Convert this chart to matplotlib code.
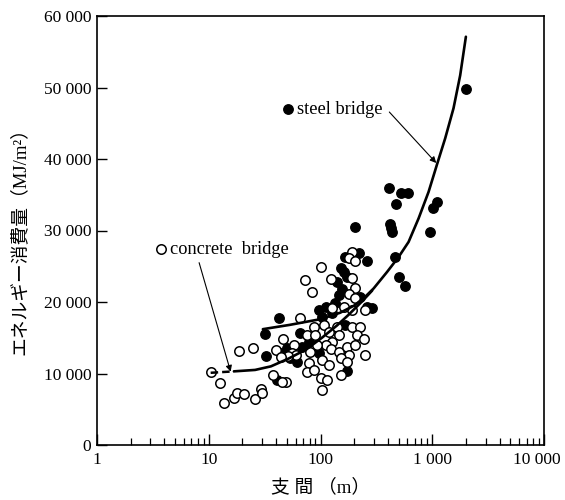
import matplotlib
matplotlib.use("Agg")
import matplotlib.pyplot as plt
import matplotlib.transforms as mtrans
from matplotlib.ticker import FixedLocator, LogLocator, NullFormatter

# ---------------- data ----------------
concrete_x = [192, 179, 205, 102, 72, 84, 123, 192, 205, 179, 205, 127, 192, 161, 65, 87, 107,
              76, 90, 119, 141, 192, 228, 213, 244, 146, 127, 111, 93, 58, 56, 123, 146, 173,
              205, 179, 252, 60, 81, 104, 119, 151, 173, 79, 76, 87, 100, 115, 104, 151, 49,
              10.5, 12.6, 13.7, 16.8, 18.0, 20.6, 25.9, 29.5, 30.1, 18.7, 24.8, 37.4, 39.6,
              45.5, 46.5, 51, 44, 252]
concrete_y = [27030, 26110, 25730, 24850, 23080, 21360, 23220, 23310, 21920, 21080, 20520, 19120,
              18880, 19340, 17800, 16550, 16780, 15380, 15380, 15850, 16550, 16550, 16550, 15380,
              14830, 15380, 14450, 13990, 13990, 13990, 12830, 13430, 13050, 13750, 13990, 12590,
              12590, 12590, 13050, 11890, 11190, 12130, 11650, 11430, 10250, 10490, 9330, 9090,
              7690, 9790, 8850,
              10170, 8630, 5830, 6530, 7310, 7130, 6430, 7830, 7230, 13150, 13610, 9830, 13290,
              8770, 14830, 12490, 12270, 18900]

steel_x = [220, 261, 167, 151, 161, 141, 173, 146, 136, 228, 111, 97, 104, 261, 290, 66, 167,
           79, 69, 50, 97, 62, 173, 42.7, 31.9, 32.8, 44.6, 40.9, 155, 128, 53,
           411, 520, 607, 470, 202, 416, 428, 434, 946, 1101, 1006, 467, 500, 566, 2000]
steel_y = [26810, 25730, 26340, 24800, 24150, 22840, 23540, 20980, 19820, 20740, 19340, 18880,
           17940, 19340, 19120, 15620, 16780, 14450, 13750, 13520, 12830, 11650, 10350, 17760,
           15480, 12490, 12910, 9090, 21800, 18500, 12100,
           35990, 35200, 35290, 33660, 30450, 30870, 30310, 29750, 29830, 34030, 33100, 26250,
           23540, 22240, 49750]

concrete_dash_x = [10.4, 16.8]
concrete_dash_y = [10100, 10300]
concrete_curve_x = [16.8, 26, 36, 52, 75, 103, 140, 178, 236, 290]
concrete_curve_y = [10300, 10500, 11000, 12100, 13400, 15000, 16700, 18200, 20100, 21600]

steel_curve_x = [30.5, 53, 100, 150, 200, 250, 299, 394, 500, 614, 755, 927, 1101, 1306,
                 1550, 1778, 2000]
steel_curve_y = [16200, 16800, 17600, 18500, 19500, 20700, 21900, 24200, 26300, 28400, 31700,
                 35400, 39200, 42900, 47100, 51700, 57100]

x_ticks = [1, 10, 100, 1000, 10000]
x_tick_labels = ["1", "10", "100", "1 000", "10 000"]
y_ticks = [0, 10000, 20000, 30000, 40000, 50000, 60000]
y_tick_labels = ["0", "10 000", "20 000", "30 000", "40 000", "50 000", "60 000"]

# ---------------- figure ----------------
SERIF = ["Liberation Serif", "Noto Sans CJK JP", "DejaVu Sans"]
plt.rcParams["font.family"] = SERIF

fig = plt.figure(figsize=(5.65, 5.0), dpi=100)
ax = fig.add_axes([97 / 565, 55 / 500, 447 / 565, 429 / 500])

ax.set_xscale("log")
ax.set_xlim(1, 10000)
ax.set_ylim(0, 60000)

ms = 6.8
ax.plot(steel_x, steel_y, "o", ms=ms, mfc="black", mec="black", mew=1.0, ls="none", zorder=3)
ax.plot(concrete_x, concrete_y, "o", ms=ms, mfc="white", mec="black", mew=1.1, ls="none", zorder=4)

ax.plot(concrete_dash_x, concrete_dash_y, color="black", lw=1.8, ls=(0, (3, 1.6)), zorder=5)
ax.plot(concrete_curve_x, concrete_curve_y, color="black", lw=1.9, zorder=5,
        solid_capstyle="round")
ax.plot(steel_curve_x, steel_curve_y, color="black", lw=1.9, zorder=5, solid_capstyle="round")

# legend-like annotations
ax.plot([50.8], [46990], "o", ms=ms, mfc="black", mec="black", mew=1.0, zorder=6)
ax.text(61.5, 46990, "steel bridge", fontsize=13.2, va="center", ha="left")
ax.annotate("", xy=(1086, 39440), xytext=(413, 46570),
            arrowprops=dict(arrowstyle="-|>", lw=0.8, color="black", mutation_scale=9,
                            shrinkA=0, shrinkB=0))
ax.plot([3.73], [27410], "o", ms=ms, mfc="white", mec="black", mew=1.1, zorder=6)
ax.text(4.5, 27410, "concrete  bridge", fontsize=13.2, va="center", ha="left")
ax.annotate("", xy=(15.7, 10250), xytext=(8.2, 25500),
            arrowprops=dict(arrowstyle="-|>", lw=0.8, color="black", mutation_scale=9,
                            shrinkA=0, shrinkB=0))

# ticks
ax.xaxis.set_major_locator(FixedLocator(x_ticks))
ax.set_xticklabels(x_tick_labels)
ax.xaxis.set_minor_locator(LogLocator(base=10, subs=range(2, 10)))
ax.xaxis.set_minor_formatter(NullFormatter())
ax.set_yticks(y_ticks)
ax.set_yticklabels(y_tick_labels)

ax.tick_params(axis="x", which="major", direction="in", length=8, width=1.0,
               labelsize=12.5, pad=5, top=False)
ax.tick_params(axis="x", which="minor", direction="in", length=5, width=0.9, top=False)
ax.tick_params(axis="y", which="major", direction="in", length=7, width=1.0,
               labelsize=12.5, pad=4, right=False)
for sp in ax.spines.values():
    sp.set_linewidth(1.2)

# the last x tick label sits slightly left of its tick, as in the reference
last = ax.get_xticklabels()[-1]
last.set_transform(last.get_transform()
                   + mtrans.ScaledTranslation(-7 / 100, 0, fig.dpi_scale_trans))

ax.set_ylabel("エネルギー消費量（MJ/m²）", fontsize=13.5)
ax.yaxis.set_label_coords(-0.152, 0.485)
ax.set_xlabel("支 間 （m）", fontsize=13.5)
ax.xaxis.set_label_coords(0.5, -0.078)

fig.savefig("out.png", dpi=100, facecolor="white")
